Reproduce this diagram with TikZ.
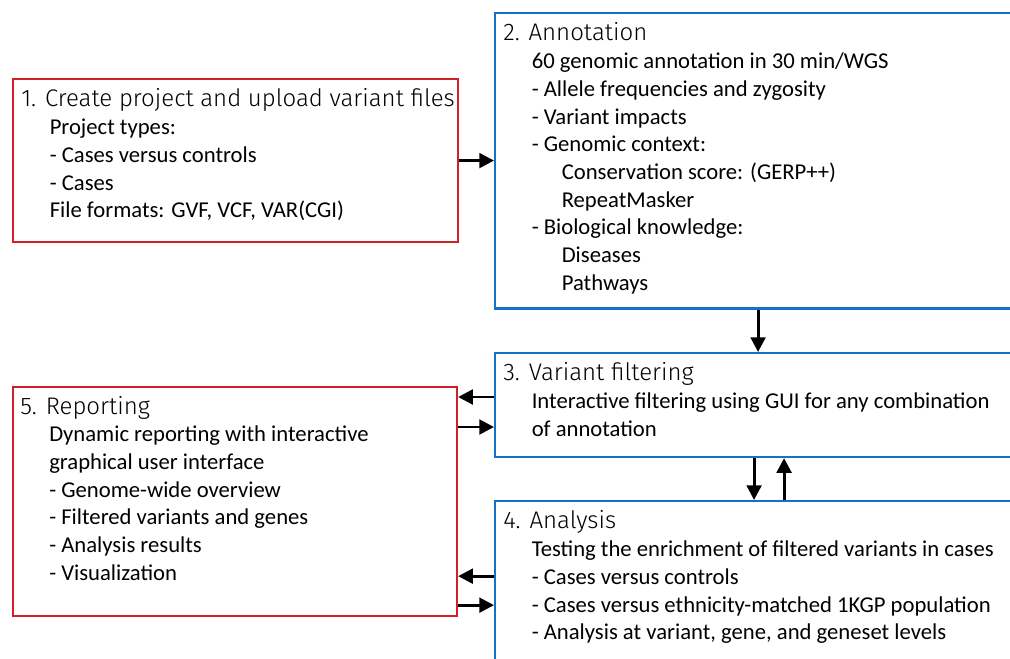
\documentclass[tikz,border=0pt]{standalone}
\usepackage{fontspec}
\setmainfont{Carlito}
\newfontfamily\headfont{Fira Sans}[UprightFont=* Light]
\usetikzlibrary{arrows.meta,positioning}
\definecolor{boxred}{RGB}{208,32,40}
\definecolor{boxblue}{RGB}{20,112,200}
\tikzset{
  stage/.style={draw, line width=1.6pt, inner sep=0pt, anchor=north west},
  redbox/.style={stage, draw=boxred},
  bluebox/.style={stage, draw=boxblue},
  heading/.style={anchor=base west, inner sep=0pt, font=\headfont\fontsize{18}{21}\selectfont},
  items/.style={anchor=north west, inner sep=0pt, align=left, font=\fontsize{17}{20.75}\selectfont},
  flow/.style={line width=2.2pt, -{Triangle[length=11pt,width=11pt]}}
}
\newcommand\indentsub{\hspace*{22.5pt}}
\begin{document}
\begin{tikzpicture}[x=0.75pt, y=-0.75pt]
  \useasboundingbox (0,0) rectangle (1010,658);
  \clip (0,0) rectangle (1010,658);
  % Cajas
  \node[redbox, minimum width=333.75pt, minimum height=122.25pt] (create) at (12,78) {};
  \node[bluebox, minimum width=394.5pt, minimum height=221.6pt] (annot) at (494,12) {};
  \node[bluebox, minimum width=394.5pt, minimum height=78pt] (filter) at (494,352) {};
  \node[bluebox, minimum width=394.5pt, minimum height=135pt] (analysis) at (494,500) {};
  \node[redbox, minimum width=333pt, minimum height=171.75pt] (report) at (12,386) {};
  % Paso 1
  \node[heading] (createH) at ([shift={(9,28.5)}]create.north west) {1. Create project and upload variant files};
  \node[items] (createT) at ([shift={(37.5,37.1)}]create.north west) {\strut Project types:\\
    - Cases versus controls\\
    - Cases\\
    File formats: GVF, VCF, VAR(CGI)};
  % Paso 2
  \node[heading] (annotH) at ([shift={(9,28.5)}]annot.north west) {2. Annotation};
  \node[items] (annotT) at ([shift={(37.5,37.1)}]annot.north west) {\strut 60 genomic annotation in 30 min/WGS\\
    - Allele frequencies and zygosity\\
    - Variant impacts\\
    - Genomic context:\\
    \indentsub Conservation score: (GERP++)\\
    \indentsub RepeatMasker\\
    - Biological knowledge:\\
    \indentsub Diseases\\
    \indentsub Pathways};
  % Paso 3
  \node[heading] (filterH) at ([shift={(9,28.5)}]filter.north west) {3. Variant filtering};
  \node[items] (filterT) at ([shift={(37.5,37.1)}]filter.north west) {\strut Interactive filtering using GUI for any combination\\
    of annotation};
  % Paso 4
  \node[heading] (analysisH) at ([shift={(9,28.5)}]analysis.north west) {4. Analysis};
  \node[items] (analysisT) at ([shift={(37.5,37.1)}]analysis.north west) {\strut Testing the enrichment of filtered variants in cases\\
    - Cases versus controls\\
    - Cases versus ethnicity-matched 1KGP population\\
    - Analysis at variant, gene, and geneset levels};
  % Paso 5
  \node[heading] (reportH) at ([shift={(8,28)}]report.north west) {5. Reporting};
  \node[items] (reportT) at ([shift={(37,36.3)}]report.north west) {\strut Dynamic reporting with interactive\\
    graphical user interface\\
    - Genome-wide overview\\
    - Filtered variants and genes\\
    - Analysis results\\
    - Visualization};
  % Flechas
  \coordinate (r1) at ([yshift=-8.25pt]report.north east);
  \coordinate (r2) at ([yshift=-30.75pt]report.north east);
  \coordinate (r3) at ([yshift=30.75pt]report.south east);
  \coordinate (r4) at ([yshift=9pt]report.south east);
  \draw[flow] (create.east) -- (create.east -| annot.west);
  \draw[flow] (annot.south) -- (filter.north);
  \draw[flow] ([xshift=-3pt]filter.south) -- ([xshift=-3pt]filter.south |- analysis.north);
  \draw[flow] ([xshift=19.5pt]filter.south |- analysis.north) -- ([xshift=19.5pt]filter.south);
  \draw[flow] (r1 -| filter.west) -- (r1);
  \draw[flow] (r2) -- (r2 -| filter.west);
  \draw[flow] (r3 -| analysis.west) -- (r3);
  \draw[flow] (r4) -- (r4 -| analysis.west);
\end{tikzpicture}
\end{document}
